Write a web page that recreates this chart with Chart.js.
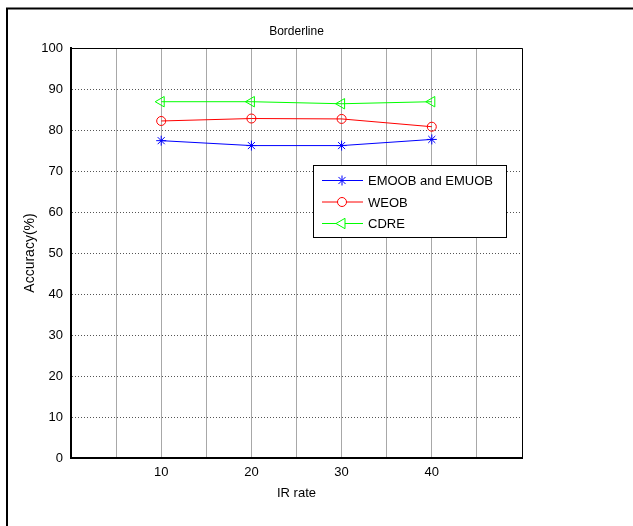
<!DOCTYPE html>
<html>
<head>
<meta charset="utf-8">
<title>Borderline</title>
<script src="https://cdn.jsdelivr.net/npm/chart.js"></script>
<style>
  html, body { margin: 0; padding: 0; background: #fff; }
  canvas { display: block; }
</style>
</head>
<body>
<canvas id="chart" width="633" height="526"></canvas>
<script>
// data
const irRates = [10, 20, 30, 40];
const xTickLabels = [10, 20, 30, 40];
const seriesNames = ['EMOOB and EMUOB', 'WEOB', 'CDRE'];
const emoob = [77.4, 76.2, 76.2, 77.7];
const weob = [82.2, 82.8, 82.7, 80.8];
const cdre = [86.9, 86.9, 86.4, 86.9];

const FONT = "Arial, 'Liberation Sans', sans-serif";

function toPoints(vals) {
    return irRates.map((x, i) => ({ x: x, y: vals[i] }));
}

// frame, box, title and the in-axes legend (matlab look)
const matlabDecor = {
    id: 'matlabDecor',
    beforeDraw(chart) {
        const ctx = chart.ctx;
        ctx.save();
        ctx.fillStyle = '#fff';
        ctx.fillRect(0, 0, chart.width, chart.height);
        ctx.strokeStyle = '#000';
        ctx.lineWidth = 2;
        ctx.beginPath();
        ctx.moveTo(7, chart.height);
        ctx.lineTo(7, 8.5);
        ctx.lineTo(chart.width, 8.5);
        ctx.stroke();
        ctx.restore();
    },
    afterDraw(chart) {
        const ctx = chart.ctx;
        const a = chart.chartArea;
        ctx.save();
        // top / right box lines
        ctx.strokeStyle = '#000';
        ctx.lineWidth = 1;
        ctx.beginPath();
        ctx.moveTo(a.left, a.top + 0.5);
        ctx.lineTo(a.right + 0.5, a.top + 0.5);
        ctx.lineTo(a.right + 0.5, a.bottom);
        ctx.stroke();

        // title
        ctx.fillStyle = '#000';
        ctx.font = '12px ' + FONT;
        ctx.textAlign = 'center';
        ctx.textBaseline = 'middle';
        ctx.fillText('Borderline', (a.left + a.right) / 2, 32);

        // legend
        const bx = 313.5, by = 165.5, bw = 193, bh = 72;
        ctx.fillStyle = '#fff';
        ctx.fillRect(bx, by, bw, bh);
        ctx.strokeRect(bx, by, bw, bh);
        ctx.font = '13px ' + FONT;
        ctx.textAlign = 'left';
        chart.data.datasets.forEach((ds, i) => {
            const y = by + 15 + i * 21.5;
            ctx.strokeStyle = ds.borderColor;
            ctx.lineWidth = 1;
            ctx.beginPath();
            ctx.moveTo(322, y);
            ctx.lineTo(363, y);
            ctx.stroke();
            ctx.fillStyle = '#fff';
            Chart.helpers.drawPoint(ctx, {
                pointStyle: ds.pointStyle,
                rotation: ds.pointRotation || 0,
                radius: ds.pointRadius,
                borderWidth: 1
            }, 342, y);
            ctx.fillStyle = '#000';
            ctx.fillText(ds.label, 368, y + 1);
        });
        ctx.restore();
    }
};

new Chart(document.getElementById('chart'), {
    type: 'line',
    data: {
        datasets: [
            {
                label: seriesNames[0],
                data: toPoints(emoob),
                borderColor: '#0000ff',
                backgroundColor: 'rgba(0,0,0,0)',
                borderWidth: 1,
                pointStyle: 'star',
                pointRadius: 5,
                pointBorderWidth: 1
            },
            {
                label: seriesNames[1],
                data: toPoints(weob),
                borderColor: '#ff0000',
                backgroundColor: 'rgba(0,0,0,0)',
                borderWidth: 1,
                pointStyle: 'circle',
                pointRadius: 4.5,
                pointBorderWidth: 1
            },
            {
                label: seriesNames[2],
                data: toPoints(cdre),
                borderColor: '#00ff00',
                backgroundColor: 'rgba(0,0,0,0)',
                borderWidth: 1,
                pointStyle: 'triangle',
                pointRotation: -90,
                pointRadius: 6,
                pointBorderWidth: 1
            }
        ]
    },
    options: {
        responsive: false,
        animation: false,
        devicePixelRatio: 1,
        layout: { padding: { top: 48, right: 111, left: 0, bottom: 0 } },
        plugins: {
            legend: { display: false },
            title: { display: false },
            tooltip: { enabled: false }
        },
        scales: {
            x: {
                type: 'linear',
                min: 0,
                max: 50,
                afterFit(scale) { scale.height = 68; },
                ticks: {
                    stepSize: 5,
                    autoSkip: false,
                    maxRotation: 0,
                    padding: 7,
                    color: '#000',
                    font: { size: 13, family: FONT },
                    callback: (v) => xTickLabels.includes(v) ? String(v) : ''
                },
                grid: {
                    color: '#a8a8a8',
                    lineWidth: 1,
                    drawTicks: false
                },
                border: { display: true, color: '#000', width: 2 },
                title: {
                    display: true,
                    text: 'IR rate',
                    color: '#000',
                    font: { size: 13, family: FONT },
                    padding: { top: 0, bottom: 25 }
                }
            },
            y: {
                min: 0,
                max: 100,
                afterFit(scale) { scale.width = 71; },
                ticks: {
                    stepSize: 10,
                    padding: 8,
                    color: '#000',
                    font: { size: 13, family: FONT }
                },
                grid: {
                    color: '#555555',
                    lineWidth: 1,
                    drawTicks: false
                },
                border: { display: true, color: '#000', width: 2, dash: [1, 2] },
                title: {
                    display: true,
                    text: 'Accuracy(%)',
                    color: '#000',
                    font: { size: 14, family: FONT },
                    padding: { top: 22, bottom: 0 }
                }
            }
        }
    },
    plugins: [matlabDecor]
});
</script>
</body>
</html>
